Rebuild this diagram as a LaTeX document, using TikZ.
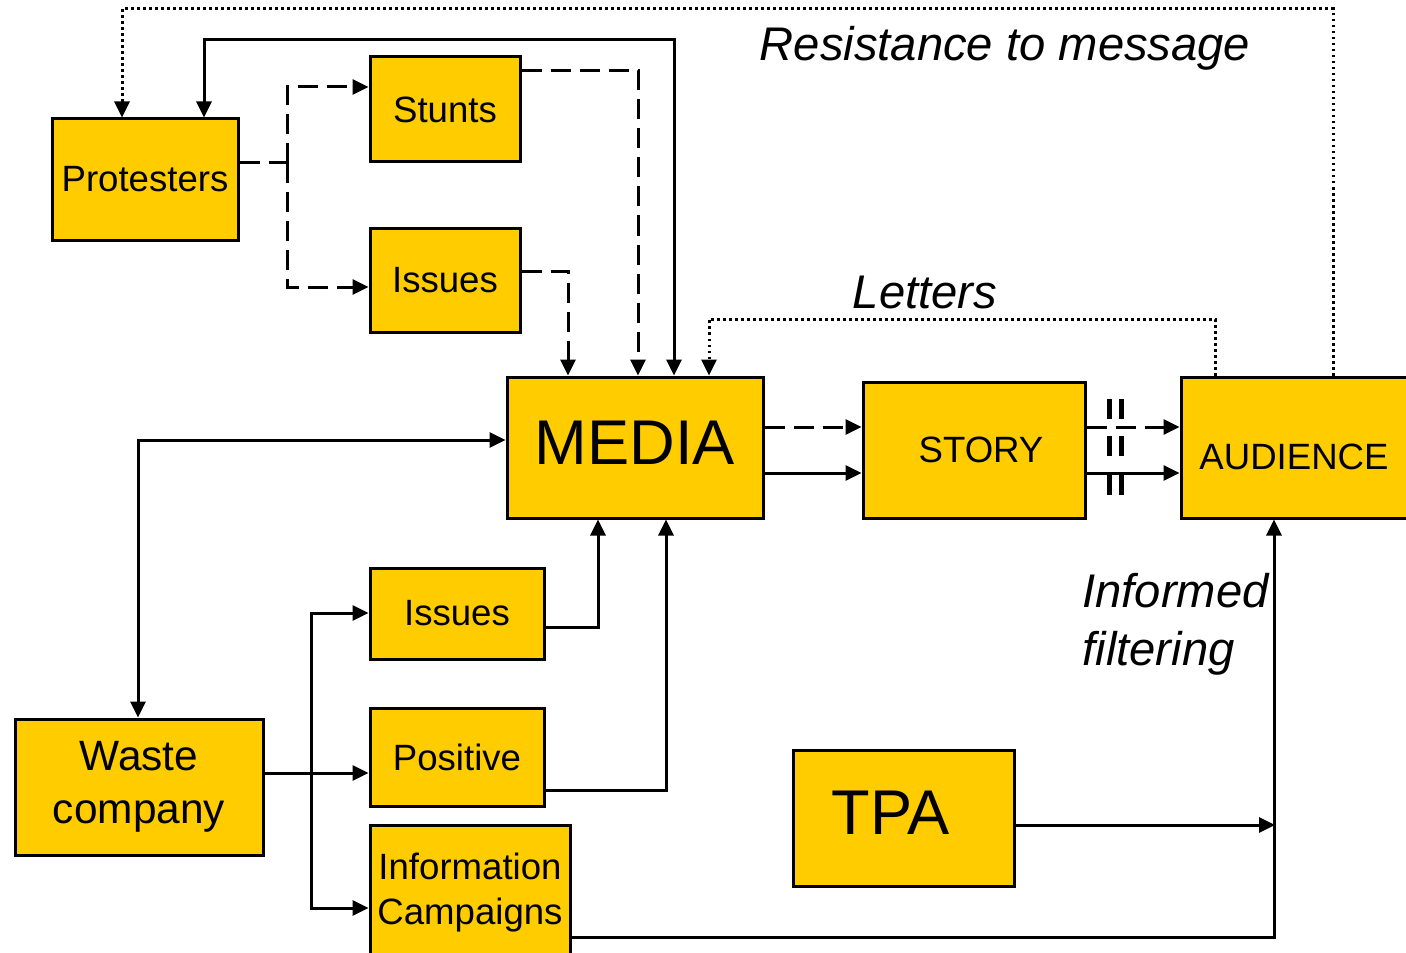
\documentclass[tikz,border=0pt]{standalone}
\usepackage{fontspec}
\setmainfont{Liberation Sans}
\usetikzlibrary{arrows.meta}
\definecolor{boxyellow}{RGB}{255,204,0}
\begin{document}
\begin{tikzpicture}[x=0.5pt,y=-0.5pt,
    >={Triangle[length=8pt,width=7.5pt]},
    box/.style={draw,line width=1.5pt,fill=boxyellow,inner sep=0pt,align=center},
    small/.style={font=\fontsize{18.3}{22.5}\selectfont},
    big/.style={font=\fontsize{31.6}{36}\selectfont},
    note/.style={font=\fontsize{23.6}{29}\selectfont\itshape,inner sep=0pt},
    link/.style={line width=1.5pt},
    dashlink/.style={link,dash pattern=on 10pt off 4.5pt},
    dotlink/.style={link,dash pattern=on 1.4pt off 1.6pt}]
    \useasboundingbox (0,0) rectangle (1406,952);

    % boxes
    \node[box,small,minimum width=93pt,minimum height=60.5pt] (protesters) at (145,179.5) {Protesters};
    \node[box,small,minimum width=75pt,minimum height=52.5pt] (stunts) at (445,109.5) {Stunts};
    \node[box,small,minimum width=75pt,minimum height=52pt] (issuesA) at (445,280) {Issues};
    \node[box,big,minimum width=128pt,minimum height=70.5pt] (media) at (635,447.5)
        {\raisebox{2.5pt}[\height][\depth]{MEDIA}};
    \node[box,small,minimum width=111pt,minimum height=68pt] (story) at (974,450) {\hspace*{7pt}STORY};
    \node[box,small,minimum width=113pt,minimum height=70.5pt] (audience) at (1294,447.5)
        {\raisebox{-4.75pt}[\height][\depth]{AUDIENCE}};
    \node[box,small,minimum width=87pt,minimum height=45.5pt] (issuesB) at (457,613.5) {Issues};
    \node[box,small,minimum width=87pt,minimum height=49pt] (positive) at (457,757) {Positive};
    \node[box,small,minimum width=100pt,minimum height=67.5pt] (info) at (470,892.5) {Information\\Campaigns};
    \node[box,font=\fontsize{21.2}{26.5}\selectfont,minimum width=124pt,minimum height=68pt] (waste) at (139,787) {Waste\\company};
    \node[box,big,minimum width=110.5pt,minimum height=68pt] (tpa) at (903.5,818)
        {\raisebox{2.5pt}[\height][\depth]{TPA}\hspace*{13pt}};

    % labels
    \node[note] (resist) at (1005,48) {Resistance to message};
    \node[note] (letters) at (925,292) {Letters};
    \node[note,anchor=west,align=left] (filter) at (1082,624) {Informed\\filtering};

    % protesters side
    \draw[dotlink,->] (audience.north -| 1333,0) |- (122,9) -- (protesters.north -| 122,0);
    \draw[link,<->] (media.north -| 674,0) |- (204,40) -- (protesters.north -| 204,0);
    \coordinate (fork) at (287,163);
    \draw[dashlink] (protesters.east |- fork) -- (fork);
    \draw[dashlink,->] (fork) |- (stunts.west |- 0,87);
    \draw[dashlink,->] (fork) |- (issuesA.west |- 0,287);
    \draw[dashlink,->] (stunts.east |- 0,71) -| (media.north -| 638,0);
    \draw[dashlink,->] (issuesA.east |- 0,271) -| (media.north -| 568,0);
    \draw[dotlink,->] (audience.north -| 1215,0) |- (709,319) -- (media.north -| 709,0);

    % media to audience
    \draw[dashlink,->] (media.east |- 0,427) -- (story.west |- 0,427);
    \draw[link,->] (media.east |- 0,473) -- (story.west |- 0,473);
    \draw[dashlink,->] (story.east |- 0,427) -- (audience.west |- 0,427);
    \draw[link,->] (story.east |- 0,473) -- (audience.west |- 0,473);
    \foreach \y in {399,436,475}
        \draw[line width=2.5pt] (1109.5,\y) -- ++(0,20) (1121,\y) -- ++(0,20);

    % waste company side
    \draw[link,<->] (waste.north -| 138,0) |- (media.west |- 0,440);
    \coordinate (split) at (311,773);
    \draw[link,->] (waste.east |- split) -- (positive.west |- split);
    \draw[link,->] (split) |- (issuesB.west |- 0,613);
    \draw[link,->] (split) |- (info.west |- 0,908);
    \draw[link,->] (issuesB.east |- 0,627) -| (media.south -| 598,0);
    \draw[link,->] (positive.east |- 0,790) -| (media.south -| 666,0);

    % TPA and campaigns
    \coordinate (tpaend) at (1275,825);
    \draw[link,->] (tpa.east |- tpaend) -- (tpaend);
    \draw[link,->] (info.east |- 0,937) -| (audience.south -| 1274,0);
\end{tikzpicture}
\end{document}
